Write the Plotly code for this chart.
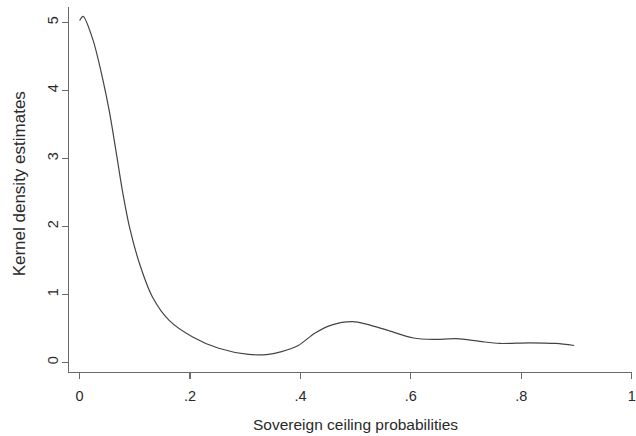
import plotly.graph_objects as go

# Kernel density curve
prob = [0.0, 0.0065, 0.0244, 0.0424, 0.0544, 0.0665, 0.0783, 0.0904, 0.1083, 0.1322,
        0.1622, 0.204, 0.252, 0.306, 0.342, 0.366, 0.396, 0.426, 0.456, 0.4945,
        0.521, 0.557, 0.605, 0.641, 0.683, 0.725, 0.761, 0.815, 0.863, 0.896]
density = [5.03, 5.09, 4.74, 4.15, 3.67, 3.08, 2.49, 1.99, 1.46, 0.96,
           0.62, 0.38, 0.21, 0.12, 0.12, 0.16, 0.25, 0.43, 0.55, 0.60,
           0.56, 0.475, 0.36, 0.34, 0.35, 0.31, 0.28, 0.29, 0.28, 0.25]

x_tickvals = [0, 0.2, 0.4, 0.6, 0.8, 1]
x_ticktext = ["0", ".2", ".4", ".6", ".8", "1"]
y_tickvals = [0, 1, 2, 3, 4, 5]
y_ticktext = ["0", "1", "2", "3", "4", "5"]

FONT = "Liberation Sans, Arial, sans-serif"
AXIS = "#6a6a6a"
TEXT = "#2a2a2a"

fig = go.Figure()
fig.add_trace(go.Scatter(x=prob, y=density, mode="lines",
                         line=dict(color="#444444", width=1.2, shape="spline", smoothing=0.8),
                         hoverinfo="skip", showlegend=False))

fig.update_layout(
    width=636, height=436,
    margin=dict(l=69, r=0, t=7, b=64),
    paper_bgcolor="white", plot_bgcolor="white",
    font=dict(family=FONT, size=14, color=TEXT),
    showlegend=False,
)
fig.update_xaxes(
    range=[-0.0192, 1.0006], tickvals=x_tickvals, ticktext=x_ticktext,
    showline=True, linecolor=AXIS, linewidth=1.2, mirror=False,
    ticks="outside", ticklen=6, tickwidth=1.2, tickcolor=AXIS,
    showgrid=False, zeroline=False, ticklabeloverflow="allow",
    ticklabelstandoff=4,
    tickfont=dict(family=FONT, size=14.5, color=TEXT),
)
fig.update_yaxes(
    range=[-0.1397, 5.228], tickvals=y_tickvals, ticktext=y_ticktext,
    showline=True, linecolor=AXIS, linewidth=1.2, mirror=False,
    ticks="outside", ticklen=6, tickwidth=1.2, tickcolor=AXIS,
    showgrid=False, zeroline=False, tickangle=-90,
    ticklabelstandoff=-2,
    tickfont=dict(family=FONT, size=14.5, color=TEXT),
)

fig.add_annotation(text="Sovereign ceiling probabilities", xref="paper", yref="paper",
                   x=(358 - 69) / 567, y=-(424 - 372) / 365, xanchor="center", yanchor="middle",
                   showarrow=False, font=dict(family=FONT, size=15.5, color=TEXT))
fig.add_annotation(text="Kernel density estimates", xref="paper", yref="paper",
                   x=-(69 - 19) / 567, y=(372 - 184) / 365, xanchor="center", yanchor="middle",
                   textangle=-90, showarrow=False, font=dict(family=FONT, size=17, color=TEXT))

fig.write_html("out.html", config={"displayModeBar": False, "staticPlot": True},
               post_script="document.body.style.margin='0';document.body.style.padding='0';")
